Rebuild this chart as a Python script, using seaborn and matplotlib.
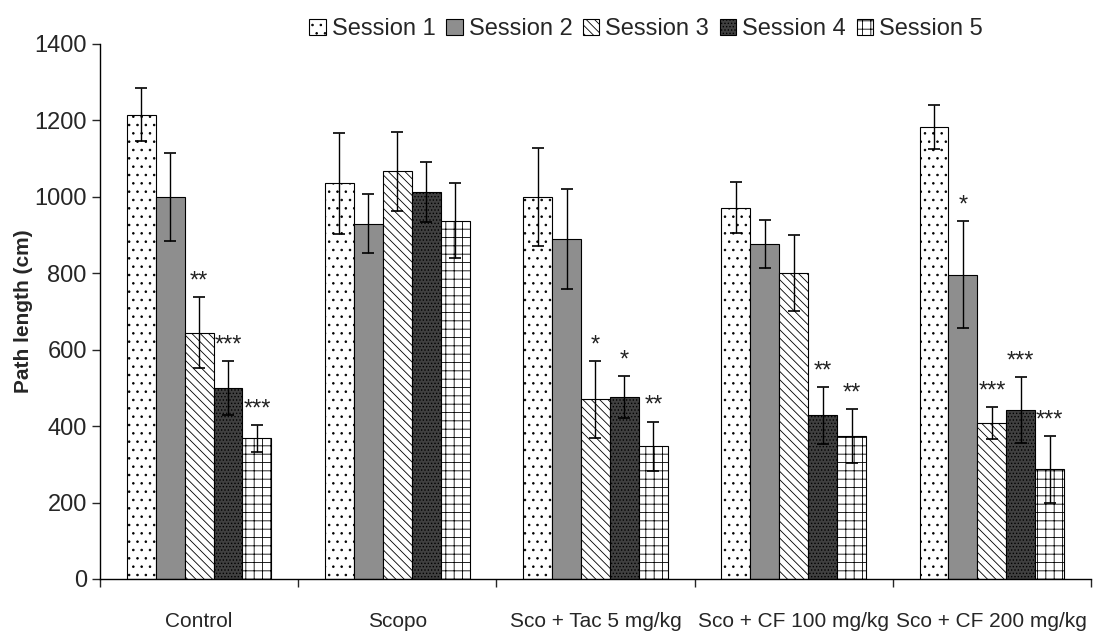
import matplotlib
matplotlib.use("Agg")
import matplotlib.pyplot as plt
import seaborn as sns
import pandas as pd
import numpy as np
from matplotlib.patches import Patch

sns.set_theme(style="white")
plt.rcParams["font.family"] = ["Liberation Sans", "DejaVu Sans"]
plt.rcParams["hatch.linewidth"] = 0.6

# Data
groups = ["Control", "Scopo", "Sco + Tac 5 mg/kg", "Sco + CF 100 mg/kg", "Sco + CF 200 mg/kg"]
sessions = ["Session 1", "Session 2", "Session 3", "Session 4", "Session 5"]

session1 = [1215, 1035, 1000, 972, 1183]
session2 = [1000, 930, 890, 877, 796]
session3 = [645, 1067, 470, 800, 408]
session4 = [500, 1012, 477, 428, 443]
session5 = [368, 938, 347, 374, 287]

err1 = [70, 132, 128, 67, 57]
err2 = [115, 78, 130, 63, 140]
err3 = [92, 103, 100, 100, 42]
err4 = [70, 78, 55, 74, 86]
err5 = [35, 97, 65, 70, 87]

stars1 = ["", "", "", "", ""]
stars2 = ["", "", "", "", "*"]
stars3 = ["**", "", "*", "", "***"]
stars4 = ["***", "", "*", "**", "***"]
stars5 = ["***", "", "**", "**", "***"]

means = [session1, session2, session3, session4, session5]
errs = [err1, err2, err3, err4, err5]
stars = [stars1, stars2, stars3, stars4, stars5]

rows = []
for s, vals in zip(sessions, means):
    for g, v in zip(groups, vals):
        rows.append({"Group": g, "Session": s, "Path": v})
df = pd.DataFrame(rows)

faces = ["white", "#8e8e8e", "white", "#404040", "white"]
hatches = ["..", "", "\\\\\\\\", ".....", "++"]

fig = plt.figure(figsize=(10.95, 6.34), dpi=100)
ax = fig.add_axes([0.0913, 0.0868, 0.905, 0.8438])

sns.barplot(data=df, x="Group", y="Path", hue="Session", order=groups,
            hue_order=sessions, errorbar=None, width=0.73, gap=0,
            palette=faces, edgecolor="black", linewidth=0.8, ax=ax, legend=False)

bar_containers = list(ax.containers)
for i, cont in enumerate(bar_containers):
    xs = []
    for p in cont.patches:
        p.set_facecolor(faces[i])
        p.set_hatch(hatches[i])
        p.set_edgecolor("black")
        xs.append(p.get_x() + p.get_width() / 2)
    ax.errorbar(xs, means[i], yerr=errs[i], fmt="none", ecolor="black",
                elinewidth=1.0, capsize=4, capthick=1.2, zorder=5)
    for x, m, e, st in zip(xs, means[i], errs[i], stars[i]):
        if st:
            ax.text(x, m + e + 12, st, ha="center", va="bottom", fontsize=17,
                    color="#222222")

ax.set_ylim(0, 1400)
ax.set_xlim(-0.5, 4.5)
ax.set_yticks(np.arange(0, 1401, 200))
ax.tick_params(axis="y", labelsize=17, length=6, width=1, direction="out", left=True)
ax.set_xticks(range(len(groups)))
ax.set_xticklabels(groups, fontsize=15)
ax.tick_params(axis="x", length=0, pad=24)
ax.set_xticks(np.arange(-0.5, 4.6, 1.0), minor=True)
ax.tick_params(axis="x", which="minor", length=6, width=1, direction="out", bottom=True)
ax.set_xlabel("")
ax.set_ylabel("Path length (cm)", fontsize=15, fontweight="bold")
ax.yaxis.set_label_coords(-0.068, 0.5)
for side in ["top", "right"]:
    ax.spines[side].set_visible(False)
for side in ["left", "bottom"]:
    ax.spines[side].set_color("black")
    ax.spines[side].set_linewidth(1)

handles = [Patch(facecolor=faces[i], hatch=hatches[i], edgecolor="black", linewidth=0.8,
                 label=sessions[i]) for i in range(5)]
fig.legend(handles=handles, loc="upper center", bbox_to_anchor=(0.59, 1.005), ncol=5,
           frameon=False, fontsize=17, handlelength=0.7, handleheight=0.7,
           handletextpad=0.25, columnspacing=0.45)

fig.savefig("out.png", dpi=100)
